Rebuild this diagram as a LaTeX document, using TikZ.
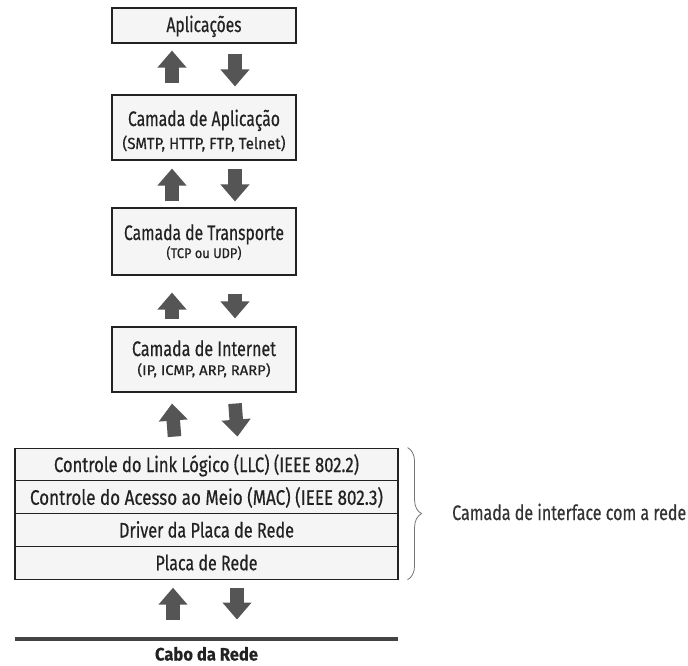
\documentclass[tikz,border=0pt]{standalone}
\usepackage{fontspec}
\usepackage{graphicx}
\setmainfont[FakeBold=0.5]{Fira Sans}
\usetikzlibrary{arrows.meta,decorations.pathreplacing,calc}
\definecolor{ink}{HTML}{222222}
\definecolor{arr}{HTML}{555555}
\definecolor{boxfill}{HTML}{F5F5F5}
\definecolor{cable}{HTML}{444444}
\newcommand\mainsz{\fontsize{21}{23}\selectfont}
\newcommand\subsz{\fontsize{16}{18}\selectfont}
\newcommand\subsm{\fontsize{14}{16}\selectfont}
\newcommand\fw[2]{\resizebox{#1pt}{\height}{#2}}
\begin{document}
\begin{tikzpicture}[x=1pt,y=-1pt,
  box/.style={draw=ink, line width=1.1pt, fill=boxfill, inner sep=0pt},
  tbox/.style={box, minimum width=184pt},
  rowbox/.style={box, minimum width=383pt, minimum height=32.75pt, text height=15pt, text depth=0pt, font=\mainsz, text=ink},
  mtxt/.style={font=\mainsz, inner sep=0pt, anchor=base, text=ink},
  stxt/.style={font=\subsz, inner sep=0pt, anchor=base, text=ink},
  blk/.style={draw=arr, line width=13.5pt, -{Triangle[width=28pt,length=17pt]}},
  bracestyle/.style={draw=black!55, line width=0.8pt, decorate, decoration={brace, amplitude=14pt}}
]
\useasboundingbox (0,0) rectangle (688,665);
\fill[white] (0,0) rectangle (688,665);

% top boxes
\node[tbox, minimum height=35pt, text height=13pt, text depth=0pt, font=\mainsz, text=ink] (app) at (204,25.5) {\fw{75}{Aplicações}};
\node[tbox, minimum height=65pt] (apl) at (204,127.5) {};
\node[mtxt] (aplT) at (204,126) {\fw{152}{Camada de Aplicação}};
\node[stxt] (aplS) at (204,149) {\fw{163}{(SMTP, HTTP, FTP, Telnet)}};

\node[tbox, minimum height=67pt] (tr) at (204,241.5) {};
\node[mtxt] (trT) at (204,240) {\fw{160}{Camada de Transporte}};
\node[stxt, font=\subsm] (trS) at (204,258) {\fw{75}{(TCP ou UDP)}};

\node[tbox, minimum height=65pt] (int) at (204,359.5) {};
\node[mtxt] (intT) at (204,356) {\fw{144}{Camada de Internet}};
\node[stxt, font=\subsm] (intS) at (204,375) {\fw{133}{(IP, ICMP, ARP, RARP)}};

% network interface stack
\node[rowbox] (llc) at (206.5,464.5) {\fw{305}{Controle do Link Lógico (LLC) (IEEE 802.2)}};
\node[rowbox] (mac) at (206.5,497.25) {\fw{353}{Controle do Acesso ao Meio (MAC) (IEEE 802.3)}};
\node[rowbox] (drv) at (206.5,530) {\fw{175}{Driver da Placa de Rede}};
\node[rowbox] (card) at (206.5,562.75) {\fw{102}{Placa de Rede}};

% cable
\node[fill=cable, inner sep=0pt, minimum width=383pt, minimum height=4.5pt] (cab) at (206.5,639) {};
\node[mtxt, font=\fontsize{18}{20}\selectfont\bfseries] (cabT) at (206.5,660.5) {\fw{103}{Cabo da Rede}};

% arrows
\draw[blk] ([xshift=-32pt,yshift=11pt]apl.north) -- ([xshift=-32pt,yshift=-7pt]app.south);
\draw[blk] ([xshift=31pt,yshift=-10pt]app.south) -- ([xshift=31pt,yshift=8pt]apl.north);

\draw[blk] ([xshift=-32pt,yshift=6pt]tr.north) -- ([xshift=-32pt,yshift=-8pt]apl.south);
\draw[blk] ([xshift=31pt,yshift=-8pt]apl.south) -- ([xshift=31pt,yshift=6pt]tr.north);

\draw[blk] ([xshift=-32pt,yshift=7pt]int.north) -- ([xshift=-32pt,yshift=-17pt]tr.south);
\draw[blk] ([xshift=31pt,yshift=-18pt]tr.south) -- ([xshift=31pt,yshift=8pt]int.north);

\draw[blk] ([xshift=-32pt,yshift=11pt]llc.north) -- ([xshift=-32pt,yshift=-11pt]int.south);
\draw[blk] ([xshift=31pt,yshift=-11pt]int.south) -- ([xshift=31pt,yshift=11pt]llc.north);

\draw[blk] ([xshift=-33.5pt,yshift=17pt]cab.north) -- ([xshift=-33.5pt,yshift=-8pt]card.south);
\draw[blk] ([xshift=30.5pt,yshift=-8pt]card.south) -- ([xshift=30.5pt,yshift=17pt]cab.north);

% brace and label
\draw[bracestyle] ([xshift=9pt]llc.north east) -- ([xshift=9pt]card.south east);
\node[mtxt, anchor=base west, text=black!80] (iface) at (452,520) {\fw{234}{Camada de interface com a rede}};
\end{tikzpicture}
\end{document}
